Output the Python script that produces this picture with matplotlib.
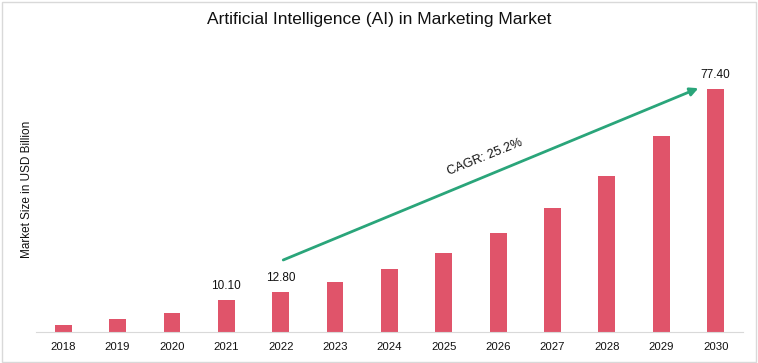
import matplotlib.pyplot as plt
from matplotlib.patches import Rectangle

years = ["2018", "2019", "2020", "2021", "2022", "2023", "2024",
         "2025", "2026", "2027", "2028", "2029", "2030"]
market_size = [2.1, 4.1, 6.1, 10.10, 12.80, 15.9, 20.1,
               25.2, 31.5, 39.5, 49.7, 62.4, 77.40]
labelled = {"2021": "10.10", "2022": "12.80", "2030": "77.40"}

plt.rcParams['font.family'] = ['Liberation Sans', 'DejaVu Sans']

fig = plt.figure(figsize=(7.58, 3.63), dpi=100)
ax = fig.add_axes([0.0475, 0.0854, 0.9325, 0.749])

x = list(range(len(years)))
ax.bar(x, market_size, width=0.31, color="#E0546A")

for i, yr in enumerate(years):
    if yr in labelled:
        ax.text(i, market_size[i] + 2.5, labelled[yr], ha="center", va="bottom",
                fontsize=8.5, color="#111111")

ax.set_xlim(-0.5, 12.5)
ax.set_ylim(0, 86.6)
ax.set_xticks(x)
ax.set_xticklabels(years, fontsize=8.2, color="#111111")
ax.tick_params(axis="x", length=0, pad=7)
ax.set_yticks([])
for s in ["left", "right", "top"]:
    ax.spines[s].set_visible(False)
ax.spines["bottom"].set_color("#d9d9d9")

# CAGR arrow
ax.annotate("", xy=(11.73, 78.0), xytext=(4.0, 22.6),
            arrowprops=dict(arrowstyle="-|>", color="#2AA57A", lw=2,
                            mutation_scale=12))
ax.text(7.75, 55.7, "CAGR: 25.2%", rotation=22, ha="center", va="center",
        fontsize=9.2, color="#111111")

fig.text(0.036, 0.479, "Market Size in USD Billion", rotation=90,
         ha="center", va="center", fontsize=8.5, color="#111111")
fig.text(0.5, 0.945, "Artificial Intelligence (AI) in Marketing Market",
         ha="center", va="center", fontsize=12.5, color="#111111")

fig.patches.append(Rectangle((0.003, 0.003), 0.994, 0.991, transform=fig.transFigure,
                             fill=False, edgecolor="#d9d9d9", lw=1))

fig.savefig("out.png", dpi=100)
